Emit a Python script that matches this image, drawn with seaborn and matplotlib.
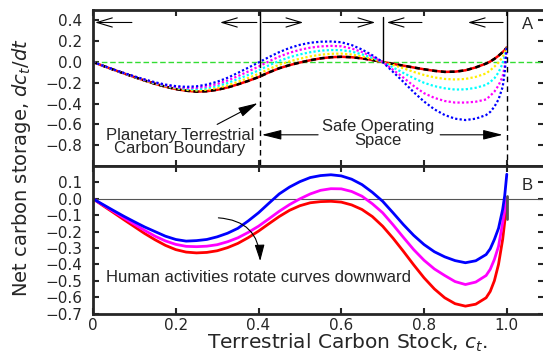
import matplotlib
matplotlib.use("Agg")
import matplotlib.pyplot as plt
import seaborn as sns

# terrestrial carbon stock (x) shared by all curves
c = [0, .025, .05, .075, .1, .125, .15, .175, .2, .225, .25, .275, .3, .325, .35, .375,
     .4, .425, .45, .475, .5, .525, .55, .575, .6, .625, .65, .675, .7, .725, .75, .775,
     .8, .825, .85, .875, .9, .925, .95, .96, .97, .98, .99, .995, 1.0]

# panel A : family of dc/dt curves
top_black = [0, -0.038, -0.075, -0.11, -0.145, -0.178, -0.21, -0.237, -0.26, -0.276, -0.285, -0.281,
             -0.267, -0.245, -0.215, -0.182, -0.145, -0.1, -0.06, -0.03, -0.005, 0.017, 0.035, 0.046,
             0.05, 0.046, 0.035, 0.019, 0, -0.018, -0.035, -0.053, -0.07, -0.085, -0.095, -0.093,
             -0.08, -0.052, -0.015, 0.005, 0.03, 0.06, 0.095, 0.115, 0.14]
top_yellow = [0, -0.038, -0.074, -0.109, -0.143, -0.176, -0.207, -0.233, -0.254, -0.268, -0.274, -0.267,
              -0.25, -0.225, -0.191, -0.154, -0.114, -0.068, -0.026, 0.006, 0.032, 0.054, 0.07, 0.079,
              0.081, 0.072, 0.054, 0.029, 0, -0.029, -0.06, -0.095, -0.125, -0.148, -0.163, -0.168,
              -0.163, -0.143, -0.11, -0.08, -0.045, -0.005, 0.05, 0.09, 0.14]
top_cyan = [0, -0.037, -0.074, -0.108, -0.142, -0.173, -0.203, -0.228, -0.247, -0.259, -0.262, -0.252,
            -0.232, -0.202, -0.164, -0.124, -0.081, -0.032, 0.011, 0.046, 0.073, 0.094, 0.109, 0.115,
            0.114, 0.1, 0.074, 0.04, 0, -0.052, -0.105, -0.155, -0.2, -0.232, -0.253, -0.265,
            -0.263, -0.248, -0.22, -0.192, -0.157, -0.1, -0.013, 0.06, 0.14]
top_magenta = [0, -0.037, -0.073, -0.107, -0.14, -0.171, -0.199, -0.223, -0.24, -0.249, -0.248, -0.235,
               -0.212, -0.178, -0.136, -0.091, -0.044, 0.006, 0.052, 0.089, 0.117, 0.138, 0.15, 0.155,
               0.151, 0.13, 0.096, 0.052, 0, -0.075, -0.15, -0.23, -0.3, -0.345, -0.375, -0.39,
               -0.39, -0.382, -0.36, -0.325, -0.285, -0.225, -0.14, -0.04, 0.14]
top_blue = [0, -0.036, -0.072, -0.106, -0.138, -0.168, -0.195, -0.217, -0.232, -0.239, -0.234, -0.217,
            -0.19, -0.152, -0.105, -0.055, -0.005, 0.047, 0.095, 0.135, 0.165, 0.185, 0.195, 0.197,
            0.19, 0.163, 0.12, 0.065, 0, -0.095, -0.19, -0.29, -0.38, -0.455, -0.51, -0.545,
            -0.558, -0.545, -0.51, -0.48, -0.43, -0.36, -0.24, -0.1, 0.14]

# panel B : human activities rotate the curve downward
bot_blue = [0, -0.036, -0.072, -0.107, -0.14, -0.172, -0.2, -0.228, -0.248, -0.258, -0.255, -0.248,
            -0.232, -0.21, -0.18, -0.135, -0.085, -0.027, 0.03, 0.072, 0.105, 0.13, 0.142, 0.147,
            0.14, 0.12, 0.087, 0.04, -0.015, -0.085, -0.157, -0.223, -0.279, -0.323, -0.354, -0.377,
            -0.39, -0.378, -0.34, -0.305, -0.248, -0.18, -0.065, 0.02, 0.15]
bot_magenta = [0, -0.039, -0.078, -0.117, -0.155, -0.193, -0.228, -0.257, -0.278, -0.29, -0.292, -0.289,
               -0.28, -0.262, -0.238, -0.205, -0.167, -0.122, -0.076, -0.035, 0.0, 0.03, 0.052, 0.062,
               0.061, 0.045, 0.016, -0.03, -0.085, -0.158, -0.235, -0.31, -0.375, -0.428, -0.468, -0.505,
               -0.523, -0.508, -0.468, -0.43, -0.37, -0.29, -0.146, -0.07, 0.006]
bot_red = [0, -0.043, -0.085, -0.128, -0.17, -0.212, -0.25, -0.284, -0.31, -0.325, -0.33, -0.327,
           -0.317, -0.298, -0.272, -0.237, -0.197, -0.152, -0.108, -0.07, -0.042, -0.024, -0.017, -0.015,
           -0.02, -0.037, -0.065, -0.108, -0.167, -0.24, -0.32, -0.403, -0.482, -0.55, -0.604, -0.64,
           -0.655, -0.643, -0.604, -0.565, -0.5, -0.4, -0.248, -0.14, -0.024]

# equilibria / boundaries
boundary = 0.403
unstable = 0.7
full = 1.0
end_val = 0.14

# direction-of-flow arrows along the top of panel A (tail, head)
flow_arrows = [(0.094, 0.005), (0.396, 0.307), (0.41, 0.508),
               (0.597, 0.682), (0.795, 0.71), (0.991, 0.906)]

sns.set_style("ticks")
plt.rcParams["font.family"] = ["DejaVu Sans"]
plt.rcParams["axes.linewidth"] = 2

fig = plt.figure(figsize=(5.43, 3.57), dpi=100)
axA = fig.add_axes([0.1713, 0.535, 0.8306, 0.437])
axB = fig.add_axes([0.1713, 0.1218, 0.8306, 0.413])

# ---- panel A
axA.axhline(0, color="#33dd33", lw=1, ls=(0, (4, 2)))
sns.lineplot(x=c, y=top_black, ax=axA, color="red", lw=1.8)
sns.lineplot(x=c, y=top_black, ax=axA, color="black", lw=1.8, ls=(0, (2, 1.5)))
for vals, col in [(top_yellow, "#ffee00"), (top_cyan, "cyan"),
                  (top_magenta, "magenta"), (top_blue, "blue")]:
    sns.lineplot(x=c, y=vals, ax=axA, color=col, lw=1.6, ls=(0, (1, 1)))

axA.plot([boundary, boundary], [0.5, 0], color="k", lw=1)
axA.plot([boundary, boundary], [0, -1.0], color="k", lw=1, ls=(0, (4, 3)))
axA.plot([unstable, unstable], [0.435, 0], color="k", lw=1)
axA.plot([full, full], [0.5, end_val], color="k", lw=1)
axA.plot([full, full], [end_val, -1.0], color="k", lw=1, ls=(0, (4, 3)))

for tail, head in flow_arrows:
    axA.annotate("", xy=(head, 0.38), xytext=(tail, 0.38),
                 arrowprops=dict(arrowstyle="->,head_length=1.1,head_width=0.33",
                                 lw=0.8, color="k", shrinkA=0, shrinkB=0))

txt_font = ["Liberation Sans", "DejaVu Sans"]
axA.text(0.21, -0.77, "Planetary Terrestrial\nCarbon Boundary", ha="center", va="center",
         fontsize=12, family=txt_font, linespacing=0.9)
axA.annotate("", xy=(boundary - 0.005, -0.395), xytext=(0.3, -0.6),
             arrowprops=dict(arrowstyle="-|>,head_length=1.2,head_width=0.3",
                             lw=0.8, color="k", shrinkA=0, shrinkB=0))
axA.text(0.689, -0.69, "Safe Operating\nSpace", ha="center", va="center",
         fontsize=12, family=txt_font, linespacing=0.9)
axA.annotate("", xy=(0.408, -0.70), xytext=(0.544, -0.70),
             arrowprops=dict(arrowstyle="-|>,head_length=1.2,head_width=0.3",
                             lw=0.8, color="k", shrinkA=0, shrinkB=0))
axA.annotate("", xy=(0.99, -0.70), xytext=(0.839, -0.70),
             arrowprops=dict(arrowstyle="-|>,head_length=1.2,head_width=0.3",
                             lw=0.8, color="k", shrinkA=0, shrinkB=0))
axA.text(1.05, 0.356, "A", ha="center", va="center", fontsize=12, family=txt_font)

axA.set_xlim(0, 1.09)
axA.set_ylim(-1.0, 0.5)
axA.set_yticks([0.4, 0.2, 0.0, -0.2, -0.4, -0.6, -0.8])
axA.set_yticklabels(["0.4", "0.2", "0.0", "\u22120.2", "\u22120.4", "\u22120.6", "\u22120.8"])
axA.set_xticks([0, 0.2, 0.4, 0.6, 0.8, 1.0])
axA.tick_params(labelbottom=False)

# ---- panel B
axB.axhline(0, color="#555555", lw=0.8)
sns.lineplot(x=c, y=bot_red, ax=axB, color="red", lw=2)
sns.lineplot(x=c, y=bot_magenta, ax=axB, color="magenta", lw=2)
sns.lineplot(x=c, y=bot_blue, ax=axB, color="blue", lw=2)
axB.plot([full, full], [0.016, -0.126], color="#555555", lw=2)

axB.text(0.4, -0.48, "Human activities rotate curves downward", ha="center", va="center",
         fontsize=12, family=txt_font)
axB.annotate("", xy=(0.404, -0.38), xytext=(0.303, -0.116),
             arrowprops=dict(arrowstyle="-|>,head_length=1.0,head_width=0.3",
                             lw=0.8, color="k", shrinkA=0, shrinkB=0,
                             connectionstyle="arc3,rad=-0.45"))
axB.text(1.05, 0.08, "B", ha="center", va="center", fontsize=12, family=txt_font)

axB.set_xlim(0, 1.09)
axB.set_ylim(-0.7, 0.2)
yb = [0.1, 0.0, -0.1, -0.2, -0.3, -0.4, -0.5, -0.6, -0.7]
axB.set_yticks(yb)
axB.set_yticklabels([f"{v:.1f}".replace("-", "\u2212") for v in yb])
axB.set_xticks([0, 0.2, 0.4, 0.6, 0.8, 1.0])
axB.set_xticklabels(["0", "0.2", "0.4", "0.6", "0.8", "1.0"])

for ax in (axA, axB):
    ax.tick_params(direction="in", top=True, right=True, length=4, width=1.5,
                   labelsize=11, pad=3)
    ax.tick_params(axis="y", pad=8)
    ax.set_xlabel("")
    ax.set_ylabel("")

fig.text(0.04, 0.53, "Net carbon storage, $dc_t/dt$", rotation=90, ha="center", va="center",
         fontsize=14)
fig.text(0.64, 0.04, "Terrestrial Carbon Stock, $c_t$.", ha="center", va="center", fontsize=14.5)

fig.savefig("out.png", dpi=100)
